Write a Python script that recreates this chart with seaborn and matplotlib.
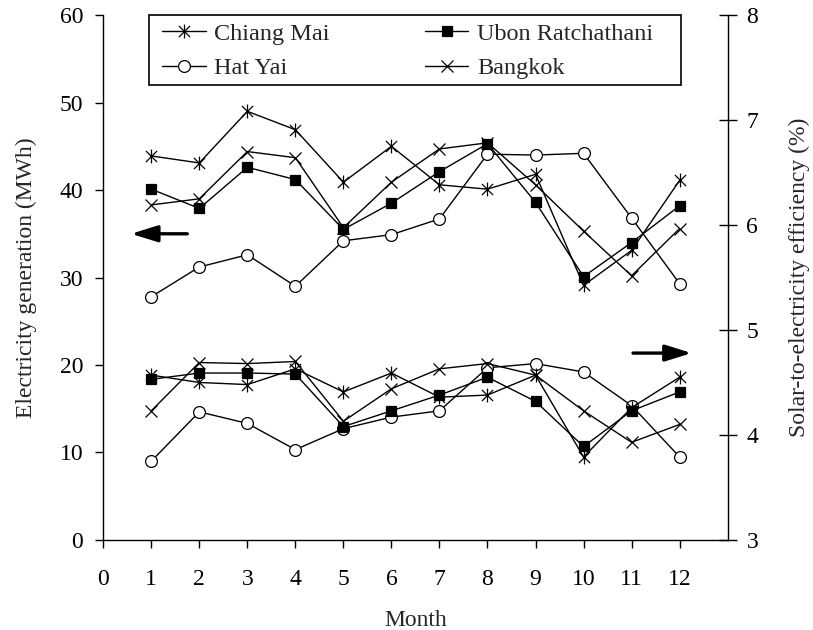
import matplotlib
matplotlib.use("Agg")
import matplotlib.pyplot as plt
from matplotlib.path import Path
from matplotlib.lines import Line2D
from matplotlib.patches import Rectangle
import seaborn as sns

# Monthly data for four Thai sites
months = [1, 2, 3, 4, 5, 6, 7, 8, 9, 10, 11, 12]
x_ticks = [0, 1, 2, 3, 4, 5, 6, 7, 8, 9, 10, 11, 12]

# Electricity generation (MWh), left axis
gen_chiang_mai = [43.9, 43.1, 49.0, 46.9, 40.9, 45.0, 40.6, 40.1, 41.8, 29.1, 33.1, 41.1]
gen_ubon = [40.1, 37.9, 42.6, 41.2, 35.5, 38.5, 42.1, 45.3, 38.6, 30.1, 34.0, 38.2]
gen_hat_yai = [27.8, 31.2, 32.6, 29.0, 34.2, 34.9, 36.7, 44.1, 44.0, 44.2, 36.8, 29.3]
gen_bangkok = [38.3, 39.0, 44.4, 43.7, 35.7, 40.9, 44.7, 45.4, 40.6, 35.3, 30.2, 35.6]

# Solar-to-electricity efficiency (%), right axis
eff_chiang_mai = [4.57, 4.50, 4.48, 4.63, 4.41, 4.59, 4.36, 4.38, 4.57, 3.79, 4.26, 4.55]
eff_ubon = [4.53, 4.59, 4.59, 4.58, 4.08, 4.23, 4.38, 4.55, 4.32, 3.89, 4.23, 4.41]
eff_hat_yai = [3.75, 4.22, 4.11, 3.86, 4.06, 4.17, 4.23, 4.64, 4.68, 4.60, 4.28, 3.79]
eff_bangkok = [4.23, 4.69, 4.68, 4.70, 4.13, 4.44, 4.63, 4.68, 4.57, 4.23, 3.93, 4.10]

sns.set_style("ticks")
plt.rcParams["font.family"] = ["Liberation Serif", "DejaVu Serif"]

FS = 17

# Asterisk marker: vertical stroke plus a cross
asterisk = Path(
    [(0, -1), (0, 1), (-0.8, -0.8), (0.8, 0.8), (-0.8, 0.8), (0.8, -0.8)],
    [Path.MOVETO, Path.LINETO, Path.MOVETO, Path.LINETO, Path.MOVETO, Path.LINETO],
)

styles = {
    "Chiang Mai": dict(marker=asterisk, markersize=10, markerfacecolor="none"),
    "Hat Yai": dict(marker="o", markersize=8.5, markerfacecolor="white"),
    "Ubon Ratchathani": dict(marker="s", markersize=6.5, markerfacecolor="black"),
    "Bangkok": dict(marker="x", markersize=9, markerfacecolor="none"),
}

gen = {
    "Chiang Mai": gen_chiang_mai,
    "Hat Yai": gen_hat_yai,
    "Ubon Ratchathani": gen_ubon,
    "Bangkok": gen_bangkok,
}
eff = {
    "Chiang Mai": eff_chiang_mai,
    "Hat Yai": eff_hat_yai,
    "Ubon Ratchathani": eff_ubon,
    "Bangkok": eff_bangkok,
}

fig = plt.figure(figsize=(8.13, 6.3), dpi=100)
ax = fig.add_axes([0.127, 0.143, 0.768, 0.833])
ax2 = ax.twinx()

common = dict(color="black", linewidth=1.0, markeredgecolor="black",
              markeredgewidth=0.9, legend=False, errorbar=None)

for name in ["Hat Yai", "Bangkok", "Ubon Ratchathani", "Chiang Mai"]:
    sns.lineplot(x=months, y=gen[name], ax=ax, **styles[name], **common)
    sns.lineplot(x=months, y=eff[name], ax=ax2, **styles[name], **common)

ax.set_xlim(0, 13)
ax.set_ylim(0, 60)
ax2.set_ylim(3, 8)
ax.set_xticks(x_ticks)
ax.set_xticklabels([str(t) for t in x_ticks])
ax.set_yticks([0, 10, 20, 30, 40, 50, 60])
ax2.set_yticks([3, 4, 5, 6, 7, 8])

for a in (ax, ax2):
    a.spines["top"].set_visible(False)
    for s in a.spines.values():
        s.set_linewidth(1.0)
        s.set_color("black")
ax.spines["right"].set_visible(False)
ax2.spines["left"].set_visible(False)
ax2.spines["bottom"].set_visible(False)

ax.tick_params(axis="both", direction="out", length=6, width=1.0,
               labelsize=FS, colors="black", pad=8.5)
ax.tick_params(axis="x", pad=15)
ax2.tick_params(axis="y", direction="inout", length=13, width=1.0,
                labelsize=FS, colors="black", pad=7)

ax.set_xlabel("Month", fontsize=FS, labelpad=14)
ax.set_ylabel("Electricity generation (MWh)", fontsize=FS, labelpad=16)
ax2.set_ylabel("Solar-to-electricity efficiency (%)", fontsize=FS, labelpad=22)

# Arrows pointing each group toward its axis
arrow_style = dict(arrowstyle="-|>,head_length=0.8,head_width=0.25",
                   lw=2.4, color="black", mutation_scale=20,
                   shrinkA=0, shrinkB=0)
ax.annotate("", xy=(0.58, 35), xytext=(1.75, 35), arrowprops=arrow_style)
ax2.annotate("", xy=(12.25, 4.78), xytext=(11.03, 4.78), arrowprops=arrow_style)

handles = []
labels = []
for name in ["Chiang Mai", "Hat Yai", "Ubon Ratchathani", "Bangkok"]:
    handles.append(Line2D([], [], color="black", linewidth=1.0,
                          markeredgecolor="black", markeredgewidth=0.9,
                          **styles[name]))
    labels.append(name)

leg = ax2.legend(handles, labels, ncol=2, loc="upper left",
                 bbox_to_anchor=(0.0944, 0.985), borderaxespad=0,
                 fontsize=FS + 0.5, frameon=False,
                 handlelength=1.8, handletextpad=0.35, borderpad=0.0,
                 labelspacing=0.5, columnspacing=3.9)

# Legend border
box = Rectangle((149 / 813, 1 - 85 / 630), 532 / 813, 70 / 630,
                transform=fig.transFigure, facecolor="none",
                edgecolor="black", linewidth=1.2, clip_on=False, zorder=5)
ax2.add_artist(box)

fig.savefig("out.png", dpi=100)
